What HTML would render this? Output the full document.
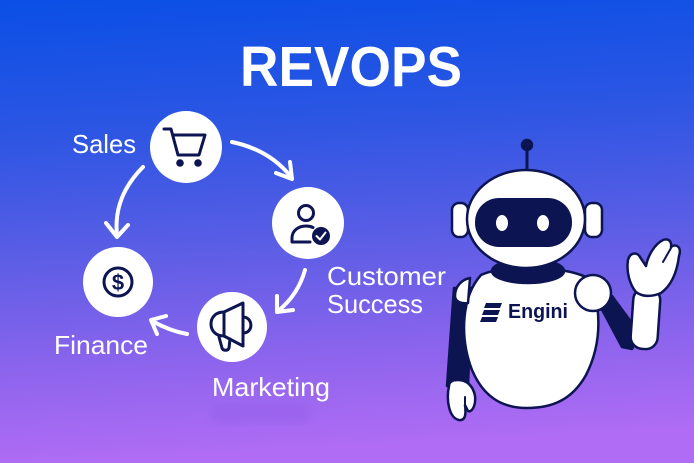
<!DOCTYPE html>
<html><head><meta charset="utf-8"><style>
html,body{margin:0;padding:0;width:694px;height:463px;overflow:hidden;}
svg{display:block;}
text{font-family:"Liberation Sans",sans-serif;}
</style></head><body>
<svg width="694" height="463" viewBox="0 0 694 463" xmlns="http://www.w3.org/2000/svg">
<defs>
<linearGradient id="bg" x1="0" y1="0" x2="0.08" y2="1">
<stop offset="0" stop-color="#0a4fe6"/>
<stop offset="0.3" stop-color="#2d56e3"/>
<stop offset="0.55" stop-color="#5a5de5"/>
<stop offset="0.8" stop-color="#8d64ed"/>
<stop offset="1" stop-color="#b06cf4"/>
</linearGradient>
<filter id="blur"><feGaussianBlur stdDeviation="4"/></filter>
</defs>
<rect width="694" height="463" fill="url(#bg)"/>

<!-- title -->
<text x="351" y="86" font-size="57" font-weight="bold" fill="#fff" text-anchor="middle" textLength="222" lengthAdjust="spacingAndGlyphs">REVOPS</text>

<!-- arrows -->
<g fill="none" stroke="#fff" stroke-width="4" stroke-linecap="round" stroke-linejoin="round">
<path d="M232,142 Q270,150 291,177"/>
<path d="M276,173 L292,179 L290,162"/>
<path d="M143,167 Q113,197 117,235"/>
<path d="M106,223 L117,237 L128,225"/>
<path d="M305,270 Q298,295 278,311"/>
<path d="M277,296 L277,312 L293,310"/>
<path d="M187,334 Q170,331 152,321"/>
<path d="M166,316 L151,320 L157,334"/>
</g>

<!-- node circles -->
<g fill="#fff">
<circle cx="186" cy="147" r="36"/>
<circle cx="308" cy="223" r="36"/>
<circle cx="118" cy="282" r="35"/>
<circle cx="232" cy="327" r="35"/>
</g>

<!-- icons -->
<g fill="none" stroke="#0d1452" stroke-width="3" stroke-linecap="round" stroke-linejoin="round">
<!-- cart -->
<path d="M164,129 L171,129 L178,155 L199,155 L205,135 L173,135"/>
<!-- dollar -->
<circle cx="118" cy="282" r="14"/>
<!-- person -->
<circle cx="306" cy="213" r="7.5"/>
<path d="M292,242 L292,238 C292,231 298,226 306,226 C309,226 311,226.5 313,227.5 M292,242 L310,242"/>
<!-- megaphone -->
<path d="M224,312 L243,303 L243,346 L224,336 Z"/>
<path d="M224,312 C215,312 211,318 211,324 C211,331 216,336 224,336"/>
<path d="M243,317 C253,317 254,333 243,333"/>
<path d="M219,337 L222,348 C223,351 228,351 229,348 L230,339"/>
</g>
<circle cx="180" cy="163" r="3.8" fill="#0d1452"/>
<circle cx="198" cy="163" r="3.8" fill="#0d1452"/>
<text x="118" y="290" font-size="22" font-weight="bold" fill="#0d1452" text-anchor="middle">$</text>
<circle cx="321" cy="236" r="9" fill="#0d1452"/>
<path d="M316.5,236 L320,239.5 L325.5,232.5" fill="none" stroke="#fff" stroke-width="2" stroke-linecap="round" stroke-linejoin="round"/>

<!-- labels -->
<g fill="#fff" font-size="26">
<text x="72" y="153" textLength="64" lengthAdjust="spacingAndGlyphs">Sales</text>
<text x="54" y="354" textLength="94" lengthAdjust="spacingAndGlyphs">Finance</text>
<text x="212" y="396" textLength="118" lengthAdjust="spacingAndGlyphs">Marketing</text>
<text x="327" y="285" textLength="119" lengthAdjust="spacingAndGlyphs">Customer</text>
<text x="327" y="313" textLength="96" lengthAdjust="spacingAndGlyphs">Success</text>
</g>
<!-- ghost reflection -->
<rect x="212" y="404" width="98" height="20" rx="8" fill="#7c4fe0" opacity="0.18" filter="url(#blur)"/>

<!-- robot -->
<g stroke="#0d1452" stroke-width="2.5" stroke-linejoin="round" stroke-linecap="round">
<!-- antenna -->
<line x1="527" y1="145" x2="527" y2="172" stroke-width="3"/>
<circle cx="527" cy="145" r="5" fill="#0d1452"/>
<!-- left arm -->
<path d="M454,288 L472,288 L468,386 L447,386 Z" fill="#0d1452"/>
<!-- right arm dark -->
<path d="M598,302 L612,296 L640,334 L632,349 L622,347 Z" fill="#0d1452"/>
<!-- body -->
<path d="M481,275 C502,265 560,265 586,277 C602,300 603,342 586,375 C572,400 552,408 527,408 C501,408 483,396 472,370 C459,336 462,296 481,275 Z" fill="#fff"/>
<!-- neck -->
<ellipse cx="528" cy="271" rx="36" ry="12" fill="#0d1452"/>
<!-- ears -->
<rect x="452" y="203" width="16" height="34" rx="7" fill="#fff"/>
<rect x="585" y="203" width="17" height="34" rx="7" fill="#fff"/>
<!-- head -->
<ellipse cx="526" cy="219" rx="59" ry="49" fill="#fff"/>
<!-- left shoulder -->
<path d="M470,278 C460,280 455,288 455,296 C455,302 462,304 468,303 Z" fill="#fff"/>
<!-- right shoulder -->
<circle cx="593" cy="293" r="18" fill="#fff"/>
<!-- forearm -->
<rect x="632" y="288" width="27" height="61" rx="12" fill="#fff" transform="rotate(4 645 318)"/>
<!-- hand -->
<path d="M636,292 C630,285 626,272 628,260 C630,252 637,252 640,257 L646,266 C648,255 655,244 663,240 C668,238 672,241 671,247 C676,243 682,247 679,256 C677,272 672,285 661,293 C652,297 642,297 636,292 Z" fill="#fff"/>
<path d="M671,248 L663,262" fill="none" stroke-width="2"/>
<!-- left hand -->
<path d="M449,386 C446,400 449,418 459,420 C466,421 466,413 465,405 L468,411 C472,413 476,405 475,396 C473,385 466,380 458,380 C452,380 449,382 449,386 Z" fill="#fff"/>
<path d="M465,405 L465,397" fill="none" stroke-width="2"/>
</g>
<!-- visor -->
<rect x="475" y="198" width="97" height="49" rx="24" fill="#0d1452"/>
<ellipse cx="502" cy="223" rx="6" ry="8" fill="#fff"/>
<ellipse cx="543" cy="223" rx="6" ry="8" fill="#fff"/>
<!-- logo -->
<g fill="#0d1452">
<path d="M486,303 L502,303 L500,308 L484,308 Z"/>
<path d="M484,310 L500,310 L498,315 L482,315 Z"/>
<path d="M482,317 L498,317 L496,322 L480,322 Z"/>
</g>
<text x="508" y="318" font-size="20" font-weight="bold" fill="#0d1452" textLength="60" lengthAdjust="spacingAndGlyphs">Engini</text>
</svg>
</body></html>
